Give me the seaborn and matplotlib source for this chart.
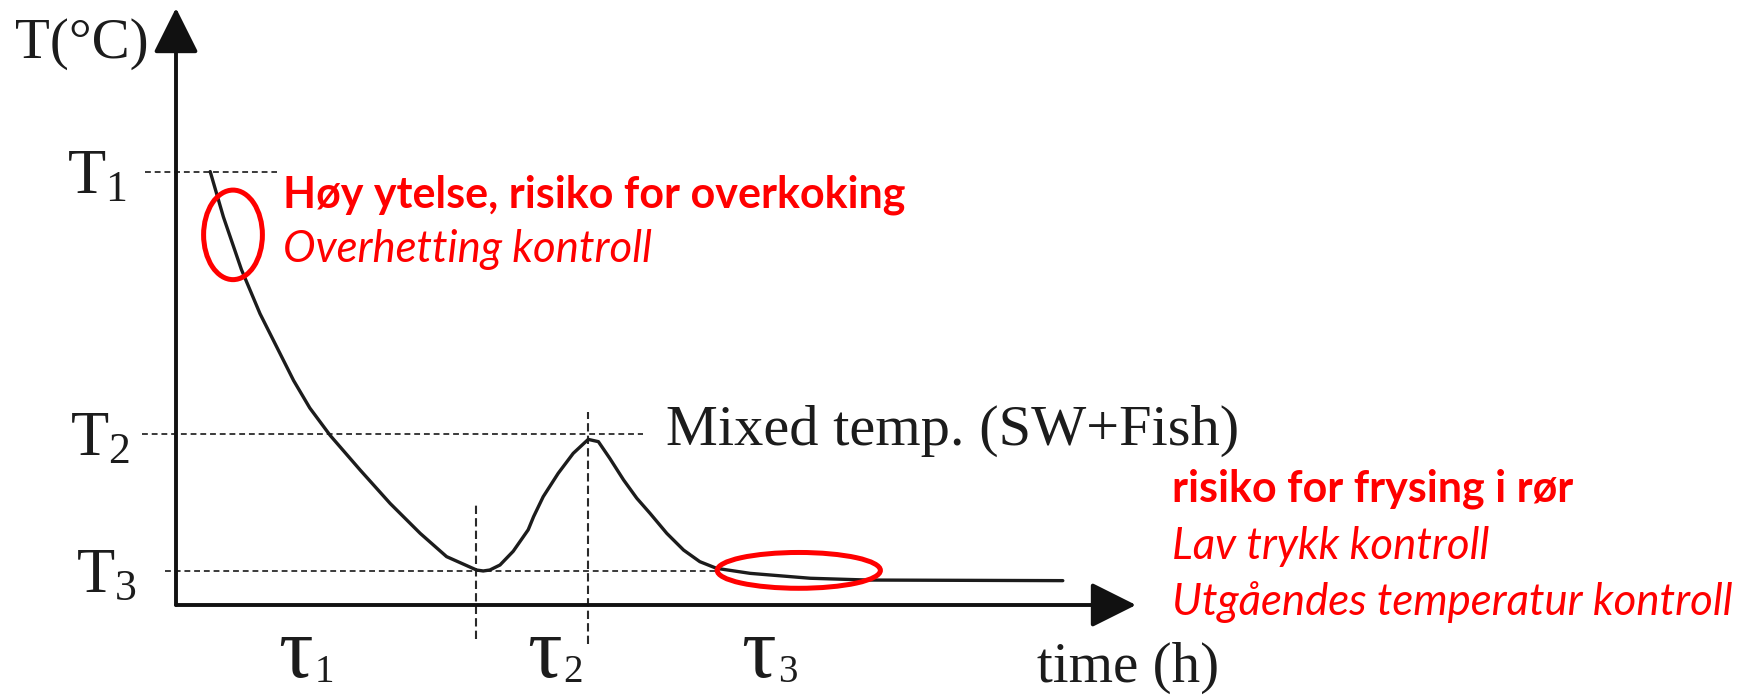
import matplotlib
matplotlib.use("Agg")
import matplotlib.pyplot as plt
from matplotlib.patches import Ellipse
import pandas as pd
import seaborn as sns

# Temperature course of a refrigerated sea-water batch (schematic)
time_h = [0.57, 0.79, 1.09, 1.40, 1.73, 1.96, 2.23, 2.57, 3.07, 3.57, 4.07, 4.51,
          5.01, 5.12, 5.23, 5.40, 5.62, 5.87, 5.96, 6.12, 6.37, 6.62, 6.87, 7.04,
          7.23, 7.46, 7.68, 7.90, 8.18, 8.46, 8.73, 9.01, 9.57, 10.57, 11.53, 14.78]
temp_c = [36.3, 32.5, 28.1, 24.4, 21.1, 18.8, 16.5, 14.2, 11.3, 8.5, 6.0, 4.05,
          2.93, 2.85, 2.93, 3.35, 4.5, 6.3, 7.4, 9.07, 11.03, 12.7, 13.87, 13.68,
          12.28, 10.47, 8.94, 7.68, 6.0, 4.6, 3.63, 3.07, 2.65, 2.24, 2.09, 2.04]

# Reference temperature levels T1, T2, T3
level_subs = ["1", "2", "3"]
level_values = [36.3, 14.3, 2.85]
level_dash_from = [-0.52, -0.57, -0.18]
level_dash_to = [1.68, 7.79, 9.0]

# Phase boundaries between tau1 / tau2 / tau3
phase_bounds = [5.0, 6.86]
phase_bound_top = [8.4, 16.2]
phase_bound_bottom = [-2.85, -3.3]
phase_subs = ["1", "2", "3"]
phase_label_x = [2.28, 6.43, 10.0]

# Highlighted regions: (centre time, centre temp, width, height)
highlights = [(0.95, 31.0, 0.98, 7.5), (10.38, 2.9, 2.72, 3.0)]

notes_upper = ["Høy ytelse, risiko for overkoking", "Overhetting kontroll"]
notes_lower = ["risiko for frysing i rør", "Lav trykk kontroll",
               "Utgåendes temperatur kontroll"]

sns.set_theme(style="white")
plt.rcParams["font.family"] = ["Liberation Serif", "DejaVu Serif"]
plt.rcParams["mathtext.fontset"] = "custom"
plt.rcParams["mathtext.rm"] = "Liberation Serif"
plt.rcParams["mathtext.default"] = "regular"

INK = "#1c1c1c"
RED = "#ff0000"
NOTE_FONT = ["Lato", "DejaVu Sans"]

fig = plt.figure(figsize=(17.62, 6.96), dpi=100)
ax = fig.add_axes([176 / 1762, 91 / 696, 960 / 1762, 597 / 696])
ax.set_xlim(0, 16)
ax.set_ylim(0, 50)
ax.axis("off")

# axes drawn as arrows
arrow = dict(arrowstyle="-|>,head_length=0.4,head_width=0.2", mutation_scale=70,
             lw=2.8, color="#111111", shrinkA=0, shrinkB=0)
ax.annotate("", xy=(1, 0), xytext=(0, 0), xycoords="axes fraction",
            textcoords="axes fraction", arrowprops=arrow, annotation_clip=False)
ax.annotate("", xy=(0, 1), xytext=(0, 0), xycoords="axes fraction",
            textcoords="axes fraction", arrowprops=arrow, annotation_clip=False)

# dashed guide lines
for val, x0, x1 in zip(level_values, level_dash_from, level_dash_to):
    ax.plot([x0, x1], [val, val], ls=(0, (3, 2)), color="#3a3a3a", lw=1.4,
            clip_on=False)
for xb, top, bot in zip(phase_bounds, phase_bound_top, phase_bound_bottom):
    ax.plot([xb, xb], [bot, top], ls=(0, (4, 2)), color="#2a2a2a", lw=1.5,
            clip_on=False)

# temperature curve
df = pd.DataFrame({"time": time_h, "temp": temp_c})
sns.lineplot(data=df, x="time", y="temp", ax=ax, color=INK, lw=2.4,
             sort=False, estimator=None, legend=False)

# serif labels
ax.text(-0.45, 45.8, "T(°C)", fontsize=41, color=INK, ha="right", va="baseline")
level_label_x = [-0.82, -0.77, -0.65]
for sub, val, lx in zip(level_subs, level_values, level_label_x):
    ax.text(lx, val - 1.8, "T$_" + sub + "$", fontsize=45, color=INK,
            ha="right", va="baseline")
for sub, px in zip(phase_subs, phase_label_x):
    ax.text(px, -6.05, "τ", fontsize=62, color=INK, ha="right", va="baseline")
    ax.text(px + 0.03, -6.45, sub, fontsize=28, color=INK, ha="left",
            va="baseline")
ax.text(15.87, -6.45, "time (h)", fontsize=41, color=INK, ha="center",
        va="baseline")
ax.text(8.17, 13.4, "Mixed temp. (SW+Fish)", fontsize=42, color=INK,
        ha="left", va="baseline")

# highlighted regions
for cx, cy, w, h in highlights:
    ax.add_patch(Ellipse((cx, cy), w, h, fill=False, ec=RED, lw=3.6,
                         clip_on=False, zorder=5))

# red notes
note = dict(color=RED, family=NOTE_FONT, ha="left", va="baseline")
ax.text(1.78, 33.3, notes_upper[0], fontsize=31, fontweight="bold", **note)
ax.text(1.78, 28.7, notes_upper[1], fontsize=31.5, style="italic", **note)
ax.text(16.6, 8.63, notes_lower[0], fontsize=31, fontweight="bold", **note)
ax.text(16.6, 3.85, notes_lower[1], fontsize=31.5, style="italic", **note)
ax.text(16.6, -0.84, notes_lower[2], fontsize=31.5, style="italic", **note)

fig.savefig("out.png", dpi=100, facecolor="white")
